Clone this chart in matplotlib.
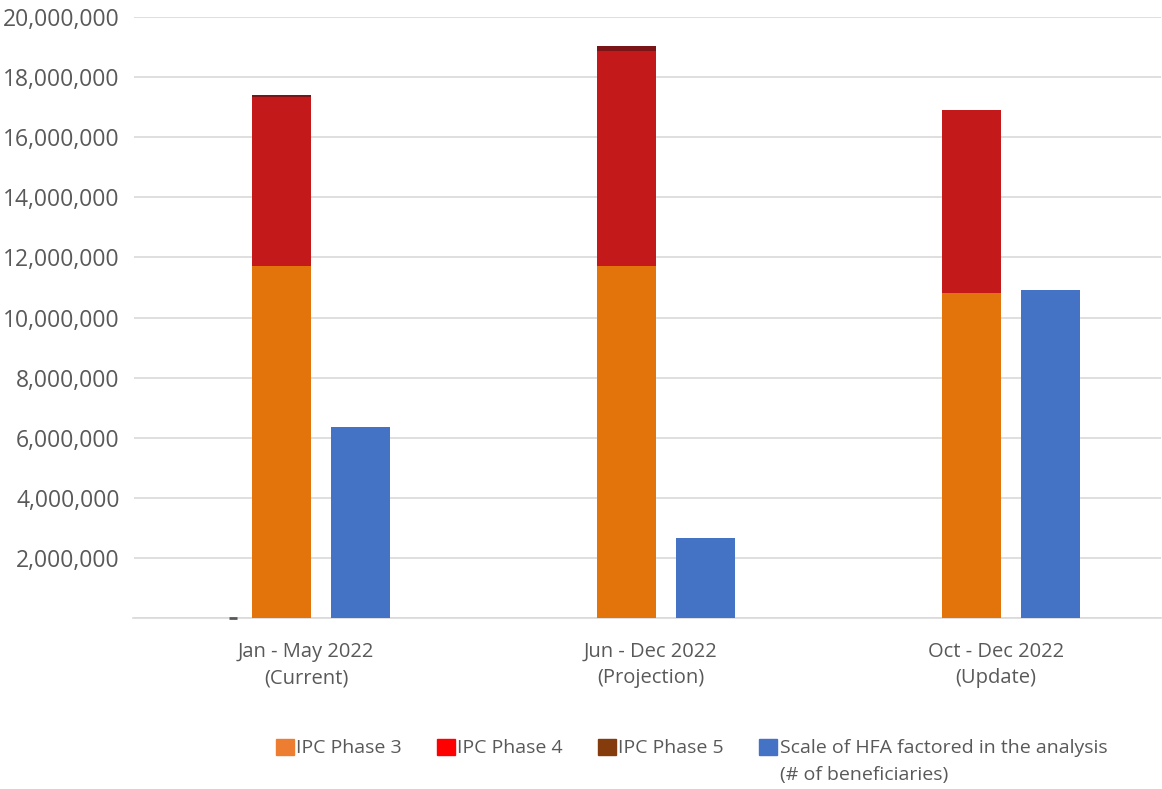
import matplotlib
matplotlib.use("Agg")
import matplotlib.pyplot as plt
from matplotlib.patches import Patch
from matplotlib.ticker import FuncFormatter, MultipleLocator
import numpy as np

categories = ["Jan - May 2022\n(Current)", "Jun - Dec 2022\n(Projection)", "Oct - Dec 2022\n(Update)"]
phase3 = [11710000, 11710000, 10820000]
phase4 = [5630000, 7160000, 6080000]
phase5 = [50000, 150000, 0]
hfa = [6360000, 2660000, 10920000]
zero_marker = [0, np.nan, np.nan]

legend_labels = ["IPC Phase 3", "IPC Phase 4", "IPC Phase 5",
                 "Scale of HFA factored in the analysis"]
legend_sub = "(# of beneficiaries)"

plt.rcParams['font.family'] = ['Open Sans', 'DejaVu Sans']
text_color = "#595959"

fig = plt.figure(figsize=(11.62, 7.89), dpi=100)
ax = fig.add_axes([133.5/1162, 1-618/789, (1161-133.5)/1162, (618-17)/789])

x = np.arange(len(categories))
w = 0.171
off_stack = -0.071
off_hfa = 0.158

c3, c4, c5, cb = "#E3730B", "#C3191A", "#7B1416", "#4472C4"
ax.bar(x + off_stack, phase3, w, color=c3, zorder=3)
ax.bar(x + off_stack, phase4, w, bottom=phase3, color=c4, zorder=3)
ax.bar(x + off_stack, phase5, w, bottom=np.array(phase3) + np.array(phase4), color=c5, zorder=3)
ax.bar(x + off_hfa, hfa, w, color=cb, zorder=3)
ax.plot(x - 0.212, zero_marker, linestyle='none', marker='_', markersize=6,
        markeredgewidth=2, color="#595959", zorder=4, clip_on=False)

ax.set_ylim(0, 20000000)
ax.set_xlim(-0.5, -0.5 + (1161-133.5)/345)
ax.yaxis.set_major_locator(MultipleLocator(2000000))
ax.yaxis.set_major_formatter(FuncFormatter(lambda v, p: "" if v == 0 else f"{int(v):,}"))
ax.grid(axis='y', color="#D9D9D9", linewidth=1.2, zorder=0)
for s in ["top", "right", "left"]:
    ax.spines[s].set_visible(False)
ax.spines["bottom"].set_color("#D9D9D9")
ax.spines["bottom"].set_linewidth(1.2)
ax.tick_params(axis='y', length=0, labelsize=16.5, labelcolor=text_color, pad=10)
ax.tick_params(axis='x', length=0, labelsize=14.5, labelcolor=text_color, pad=17)
ax.set_xticks(x)
ax.set_xticklabels(categories, linespacing=1.45)

handles = [Patch(color="#ED7D31"), Patch(color="#FF0000"), Patch(color="#843C0C"), Patch(color=cb)]
leg = fig.legend(handles, legend_labels, ncol=4, loc="center left",
                 bbox_to_anchor=(276/1162, 1-748/789), frameon=False,
                 fontsize=14, handlelength=0.9, handleheight=0.9, handletextpad=0.15,
                 columnspacing=1.8, labelcolor=text_color, borderaxespad=0, borderpad=0)
fig.canvas.draw()
last = leg.get_texts()[-1]
bb = last.get_window_extent()
fig.text(bb.x0 / fig.bbox.width, 1 - 775/789, legend_sub, fontsize=14,
         color=text_color, ha="left", va="center")

fig.savefig("out.png", dpi=100)
